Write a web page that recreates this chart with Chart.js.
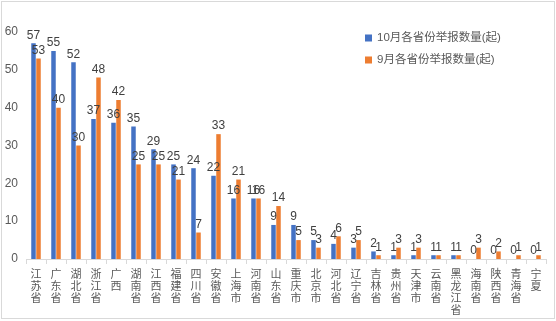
<!DOCTYPE html>
<html>
<head>
<meta charset="utf-8">
<script src="https://cdn.jsdelivr.net/npm/chart.js@4/dist/chart.umd.min.js"></script>
<style>
  html, body { margin: 0; padding: 0; background: #fff; }
  #wrap { width: 556px; height: 321px; position: relative; }
</style>
</head>
<body>
<div id="wrap"><canvas id="c" width="556" height="321"></canvas></div>
<script>
const provinces = ['江苏省', '广东省', '湖北省', '浙江省', '广西', '湖南省', '江西省', '福建省', '四川省', '安徽省',
  '上海市', '河南省', '山东省', '重庆市', '北京市', '河北省', '辽宁省', '吉林省', '贵州省', '天津市',
  '云南省', '黑龙江省', '海南省', '陕西省', '青海省', '宁夏'];
const octCounts = [57, 55, 52, 37, 36, 35, 29, 25, 24, 22, 16, 16, 9, 9, 5, 4, 3, 2, 1, 1, 1, 1, 0, 0, 0, 0];
const sepCounts = [53, 40, 30, 48, 42, 25, 25, 21, 7, 33, 21, 16, 14, 5, 3, 6, 5, 1, 3, 3, 1, 1, 3, 2, 1, 1];
const seriesNames = ['10月各省份举报数量(起)', '9月各省份举报数量(起)'];
const yTicks = [0, 10, 20, 30, 40, 50, 60];

const FONT = "'Liberation Sans', 'Noto Sans CJK SC', sans-serif";
const colors = ['#4472C4', '#ED7D31'];

// numbers above each bar
const valueLabels = {
  id: 'valueLabels',
  afterDatasetsDraw(chart) {
    const ctx = chart.ctx;
    ctx.save();
    ctx.font = '12px ' + FONT;
    ctx.fillStyle = '#404040';
    ctx.textAlign = 'center';
    ctx.textBaseline = 'bottom';
    chart.data.datasets.forEach((ds, i) => {
      chart.getDatasetMeta(i).data.forEach((bar, j) => {
        ctx.fillText(String(ds.data[j]), bar.x, bar.y - 2);
      });
    });
    ctx.restore();
  }
};

// legend in the upper right + frame
const sideLegend = {
  id: 'sideLegend',
  afterDraw(chart) {
    const ctx = chart.ctx;
    ctx.save();
    ctx.strokeStyle = '#d9d9d9';
    ctx.lineWidth = 1;
    ctx.strokeRect(1.5, 1.5, 553, 317);
    ctx.font = '11.5px ' + FONT;
    ctx.textBaseline = 'middle';
    seriesNames.forEach((name, i) => {
      const y = 38 + i * 22;
      ctx.fillStyle = colors[i];
      ctx.fillRect(365, y - 3.5, 7, 7);
      ctx.fillStyle = '#595959';
      ctx.fillText(name, 377, y);
    });
    ctx.restore();
  }
};

new Chart(document.getElementById('c'), {
  type: 'bar',
  data: {
    labels: provinces.map(p => p.split('')),
    datasets: [
      { label: seriesNames[0], data: octCounts, backgroundColor: colors[0] },
      { label: seriesNames[1], data: sepCounts, backgroundColor: colors[1] }
    ]
  },
  options: {
    responsive: false,
    animation: false,
    datasets: { bar: { categoryPercentage: 0.5, barPercentage: 0.9 } },
    layout: { padding: { left: 0, right: 10, top: 32, bottom: 2 } },
    plugins: { legend: { display: false }, tooltip: { enabled: false } },
    scales: {
      x: {
        grid: { display: true, drawOnChartArea: false, tickLength: 5, color: '#d9d9d9', offset: true },
        border: { color: '#d9d9d9' },
        ticks: { color: '#595959', font: { size: 11, family: FONT, lineHeight: 1.1 }, maxRotation: 0, autoSkip: false, padding: 5 },
        afterFit(s) { s.height = 60; }
      },
      y: {
        min: 0, max: 60,
        afterBuildTicks(s) { s.ticks = yTicks.map(v => ({ value: v })); },
        grid: { display: false, drawTicks: false },
        border: { display: false },
        ticks: { color: '#595959', font: { size: 12, family: FONT }, padding: 8 },
        afterFit(s) { s.width = 26; }
      }
    }
  },
  plugins: [valueLabels, sideLegend]
});
</script>
</body>
</html>
